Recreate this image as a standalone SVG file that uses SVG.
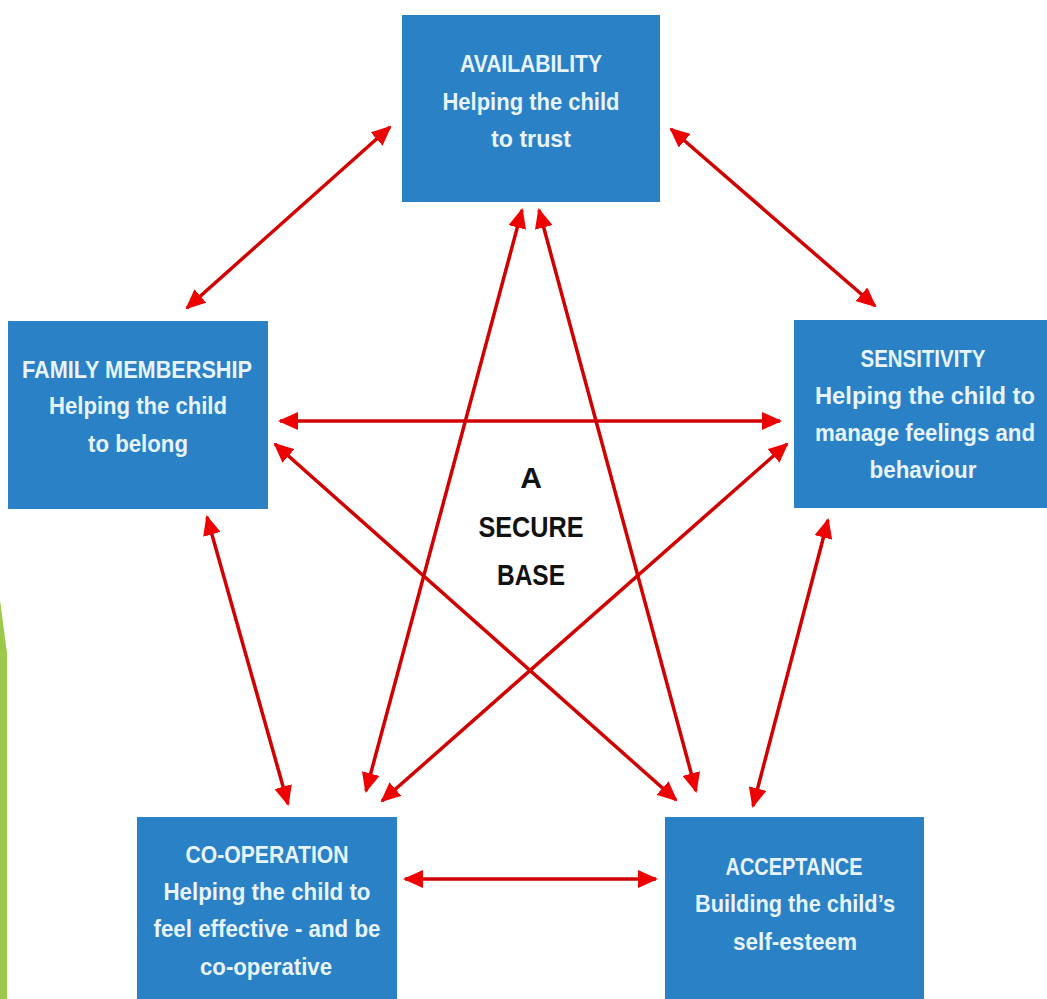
<svg xmlns="http://www.w3.org/2000/svg" width="1047" height="999" viewBox="0 0 1047 999">
<style>
.box{fill:#2a81c5;}
.t{font-family:"Liberation Sans",Arial,sans-serif;font-weight:bold;font-size:23px;fill:#e8f4fc;text-anchor:middle;}
.c{font-family:"Liberation Sans",Arial,sans-serif;font-weight:bold;font-size:30px;fill:#111;text-anchor:middle;}
.ln{stroke:#d10000;stroke-width:3.5;fill:none;marker-start:url(#ah);marker-end:url(#ah);}
</style>
<defs>
<marker id="ah" markerUnits="userSpaceOnUse" viewBox="0 0 20 18" markerWidth="20" markerHeight="18" refX="18" refY="9" orient="auto-start-reverse">
<path d="M0,0 L20,9 L0,18 z" fill="#ee0000"/>
</marker>
</defs>
<rect width="1047" height="999" fill="#ffffff"/>
<polygon points="0,600 7,653 7,999 0,999" fill="#9dc94a"/>
<g id="connectors">
<line class="ln" x1="390" y1="127" x2="187" y2="308"/>
<line class="ln" x1="671" y1="129" x2="875" y2="306"/>
<line class="ln" x1="280" y1="421" x2="780" y2="421"/>
<line class="ln" x1="207" y1="517" x2="288" y2="804"/>
<line class="ln" x1="828" y1="520" x2="753" y2="806"/>
<line class="ln" x1="405" y1="879" x2="656" y2="879"/>
<line class="ln" x1="522" y1="210" x2="366" y2="791"/>
<line class="ln" x1="539" y1="210" x2="696" y2="791"/>
<line class="ln" x1="275" y1="444" x2="676" y2="800"/>
<line class="ln" x1="787" y1="444" x2="382" y2="801"/>
</g>
<g id="availability">
<rect class="box" x="402" y="15" width="258" height="187"/>
<text class="t" x="531" y="72" textLength="142" lengthAdjust="spacingAndGlyphs">AVAILABILITY</text>
<text class="t" x="531" y="110" textLength="177" lengthAdjust="spacingAndGlyphs">Helping the child</text>
<text class="t" x="531" y="147" textLength="80" lengthAdjust="spacingAndGlyphs">to trust</text>
</g>
<g id="family">
<rect class="box" x="8" y="321" width="260" height="188"/>
<text class="t" x="137" y="378" textLength="230" lengthAdjust="spacingAndGlyphs">FAMILY MEMBERSHIP</text>
<text class="t" x="138" y="414" textLength="178" lengthAdjust="spacingAndGlyphs">Helping the child</text>
<text class="t" x="138" y="452" textLength="100" lengthAdjust="spacingAndGlyphs">to belong</text>
</g>
<g id="sensitivity">
<rect class="box" x="794" y="320" width="253" height="188"/>
<text class="t" x="923" y="367" textLength="125" lengthAdjust="spacingAndGlyphs">SENSITIVITY</text>
<text class="t" x="925" y="404" textLength="220" lengthAdjust="spacingAndGlyphs">Helping the child to</text>
<text class="t" x="925" y="441" textLength="220" lengthAdjust="spacingAndGlyphs">manage feelings and</text>
<text class="t" x="923" y="478" textLength="107" lengthAdjust="spacingAndGlyphs">behaviour</text>
</g>
<g id="cooperation">
<rect class="box" x="137" y="817" width="260" height="182"/>
<text class="t" x="267" y="863" textLength="163" lengthAdjust="spacingAndGlyphs">CO-OPERATION</text>
<text class="t" x="267" y="900" textLength="207" lengthAdjust="spacingAndGlyphs">Helping the child to</text>
<text class="t" x="267" y="937" textLength="227" lengthAdjust="spacingAndGlyphs">feel effective - and be</text>
<text class="t" x="266" y="975" textLength="132" lengthAdjust="spacingAndGlyphs">co-operative</text>
</g>
<g id="acceptance">
<rect class="box" x="665" y="817" width="259" height="182"/>
<text class="t" x="794" y="875" textLength="137" lengthAdjust="spacingAndGlyphs">ACCEPTANCE</text>
<text class="t" x="795" y="912" textLength="200" lengthAdjust="spacingAndGlyphs">Building the child’s</text>
<text class="t" x="795" y="950" textLength="124" lengthAdjust="spacingAndGlyphs">self-esteem</text>
</g>
<g id="center">
<text class="c" x="531" y="488">A</text>
<text class="c" x="531" y="537" textLength="105" lengthAdjust="spacingAndGlyphs">SECURE</text>
<text class="c" x="531" y="585" textLength="68" lengthAdjust="spacingAndGlyphs">BASE</text>
</g>
</svg>
